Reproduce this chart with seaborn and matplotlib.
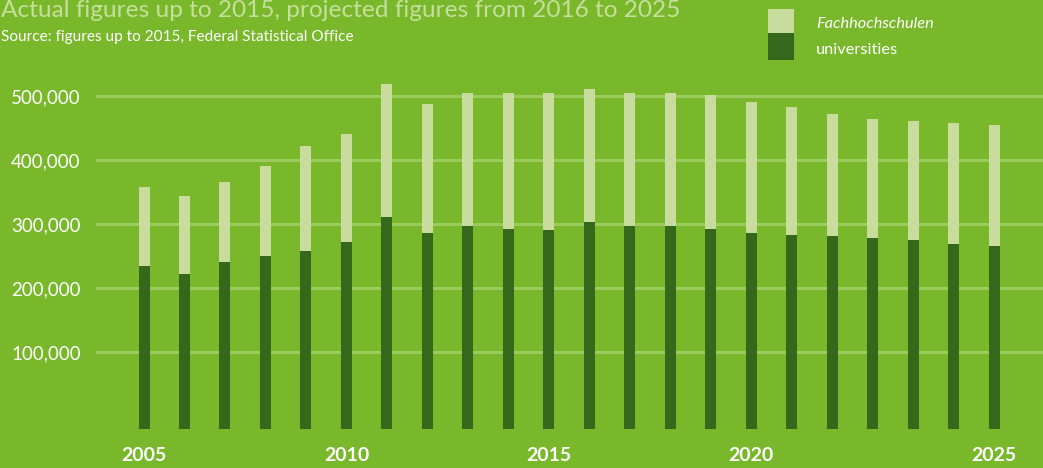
import numpy as np
import pandas as pd
import matplotlib
matplotlib.use("Agg")
import matplotlib.pyplot as plt
import seaborn as sns
from matplotlib.patches import Rectangle

# ---- data ----
bar_index = list(range(22))
universities = [234000, 222000, 241000, 250000, 259000, 272000, 311000, 286000, 298000, 292000, 291000,
                303000, 297000, 298000, 292000, 287000, 284000, 281000, 278000, 275000, 269000, 266000]
totals = [358000, 345000, 366000, 391000, 422000, 442000, 519000, 489000, 506000, 505000, 505000,
          512000, 506000, 506000, 503000, 491000, 484000, 472000, 464000, 461000, 458000, 456000]
fachhochschulen = [t - u for t, u in zip(totals, universities)]
tick_positions = [0, 5, 10, 15, 21]
tick_labels = ["2005", "2010", "2015", "2020", "2025"]
y_ticks = [100000, 200000, 300000, 400000, 500000]
y_tick_labels = ["100,000", "200,000", "300,000", "400,000", "500,000"]
legend_labels = ["Fachhochschulen", "universities"]
title = "Actual figures up to 2015, projected figures from 2016 to 2025"
source = "Source: figures up to 2015, Federal Statistical Office"

# ---- style ----
BG = "#78b82a"
LIGHT = "#c8dc9e"
DARK = "#36681b"
GRID = "#9dca5e"
TITLE_C = "#c6df9c"
FONT = ["Lato", "DejaVu Sans"]
PAD = 20000  # bars extend slightly below the zero line, as in the reference

sns.set_theme(style="white")
plt.rcParams["font.family"] = FONT

df = pd.DataFrame({
    "idx": bar_index,
    "total": [t + PAD for t in totals],
    "univ": [u + PAD for u in universities],
})

W, H = 1043, 468
fig = plt.figure(figsize=(W / 100, H / 100), dpi=100, facecolor=BG)
ax = fig.add_axes([96 / W, (H - 429) / H, (W - 96) / W, (429 - 80) / H])
ax.set_facecolor(BG)

bw = 11 / 40.48
sns.barplot(data=df, x="idx", y="total", order=bar_index, color=LIGHT, saturation=1,
            width=bw, bottom=-PAD, errorbar=None, ax=ax, linewidth=0, zorder=3)
sns.barplot(data=df, x="idx", y="univ", order=bar_index, color=DARK, saturation=1,
            width=bw, bottom=-PAD, errorbar=None, ax=ax, linewidth=0, zorder=4)

ax.set_xlim(-1.186, 22.21)
ax.set_ylim(-20300, 525800)
ax.set_yticks(y_ticks)
ax.set_yticklabels(y_tick_labels)
ax.set_xticks(tick_positions)
ax.set_xticklabels(tick_labels)
ax.set_xlabel("")
ax.set_ylabel("")
for s in ax.spines.values():
    s.set_visible(False)
ax.yaxis.grid(True, color=GRID, linewidth=2.2)
ax.xaxis.grid(False)
ax.set_axisbelow(True)
ax.tick_params(axis="y", length=0, pad=11, labelsize=13.5, labelcolor="white")
ax.tick_params(axis="x", length=0, pad=13, labelsize=14, labelcolor="white")
for lbl in ax.get_xticklabels():
    lbl.set_fontweight("bold")
for lbl in ax.get_yticklabels():
    lbl.set_verticalalignment("center_baseline")

# title and source
fig.text(1 / W, 1 - 17 / H, title, color=TITLE_C, fontsize=17.6, va="baseline", ha="left")
fig.text(1 / W, 1 - 41 / H, source, color="white", fontsize=11.1, va="baseline", ha="left")

# legend
fig.patches.append(Rectangle((768 / W, 1 - 33 / H), 26 / W, 24 / H, transform=fig.transFigure,
                             facecolor=LIGHT, edgecolor="none"))
fig.patches.append(Rectangle((768 / W, 1 - 60 / H), 26 / W, 27 / H, transform=fig.transFigure,
                             facecolor=DARK, edgecolor="none"))
fig.text(816 / W, 1 - 28 / H, legend_labels[0], color="white", fontsize=11.8, style="italic",
         va="baseline", ha="left")
fig.text(816 / W, 1 - 54 / H, legend_labels[1], color="white", fontsize=11.8,
         va="baseline", ha="left")

fig.savefig("out.png", dpi=100, facecolor=BG)
